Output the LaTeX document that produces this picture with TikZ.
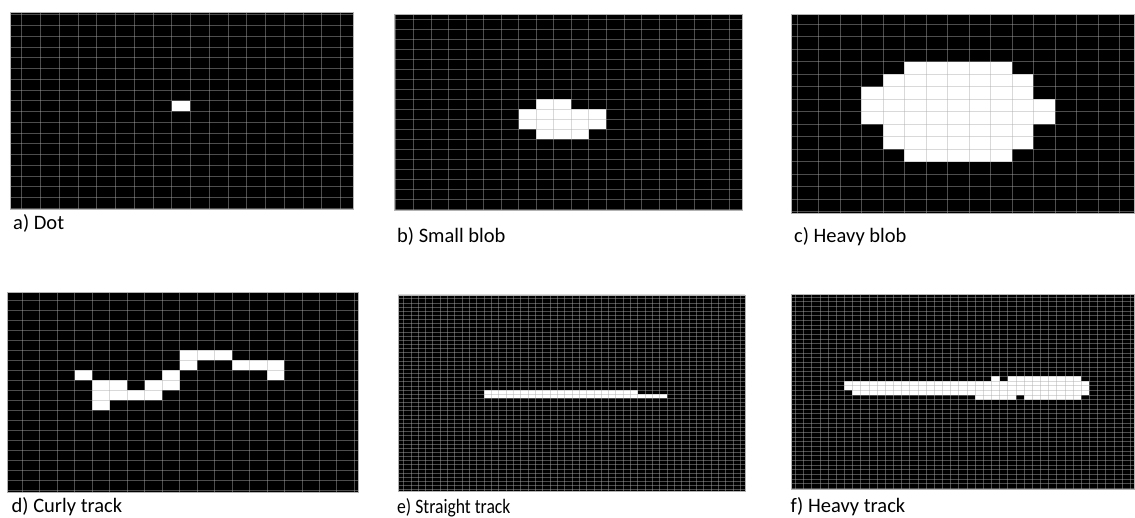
\documentclass[tikz,border=0pt]{standalone}
\usepackage{fontspec}
\setmainfont{Carlito}
\usetikzlibrary{positioning}
\tikzset{
  panelframe/.style={draw=gray!60, line width=0.6pt},
  gridline/.style={draw=white!67!black, draw opacity=0.45, line width=0.55pt},
  cellfill/.style={fill=white},
  caption/.style={font=\fontsize{20.5}{24}\selectfont, anchor=base west, inner sep=0pt}
}
% #1,#2 upper left, #3,#4 lower right, #5,#6 grid origin, #7,#8 cell size, #9 white runs row/from/to
\newcommand{\gridpanel}[9]{%
  \begin{scope}
    \clip (#1,#2) rectangle (#3,#4);
    \fill[black] (#1,#2) rectangle (#3,#4);
    \foreach \r/\a/\b in {#9}
      \fill[cellfill] ({#5+\a*#7},{#6+\r*#8}) rectangle ({#5+(\b+1)*#7},{#6+(\r+1)*#8});
    \pgfmathtruncatemacro\ka{floor((#1-#5)/#7)}
    \pgfmathtruncatemacro\kb{ceil((#3-#5)/#7)}
    \foreach \k in {\ka,...,\kb}
      \draw[gridline] ({#5+\k*#7},#2) -- ({#5+\k*#7},#4);
    \pgfmathtruncatemacro\ka{floor((#2-#6)/#8)}
    \pgfmathtruncatemacro\kb{ceil((#4-#6)/#8)}
    \foreach \k in {\ka,...,\kb}
      \draw[gridline] (#1,{#6+\k*#8}) -- (#3,{#6+\k*#8});
  \end{scope}
  \draw[panelframe] (#1,#2) rectangle (#3,#4);
}

\begin{document}
\begin{tikzpicture}[x=1pt, y=-1pt]
  \useasboundingbox (0,0) rectangle (1135,518);
  % top row
  \gridpanel{10}{12}{353}{209}{21.7}{25.5}{18.75}{10.75}{7/8/8}
  \gridpanel{394}{14}{742.7}{210.7}{413.3}{99}{17.54}{10}{0/7/8, 1/6/10, 2/6/10, 3/7/9}
  \gridpanel{791}{14}{1134}{213}{818.3}{61.7}{21.5}{12.5}{0/4/8, 1/3/9, 2/2/9, 3/2/10, 4/2/10, 5/3/9, 6/3/9, 7/4/8}
  % bottom row
  \gridpanel{7.3}{292.7}{358}{492.3}{22.3}{360}{17.47}{10}{-1/9/11, 0/9/9, 0/12/14, 1/3/3, 1/8/8, 1/14/14, 2/4/5, 2/7/8, 3/4/7, 4/4/4}
  \gridpanel{398.3}{295}{745}{491.7}{484}{390}{7.32}{4.15}{0/0/20, 1/0/24}
  \gridpanel{791}{294}{1134}{489.3}{844.3}{376.3}{8.17}{4.67}{0/18/18, 0/20/28, 1/0/29, 2/0/29, 3/1/29, 4/16/20, 4/22/28}

  \node[caption] (capa) at (13,230) {a) Dot};
  \node[caption] (capb) at (397,243) {b) Small blob};
  \node[caption] (capc) at (794,243) {c) Heavy blob};
  \node[caption] (capd) at (11.5,512) {d) Curly track};
  \node[caption, xscale=0.86, transform shape] (cape) at (397,513) {e) Straight track};
  \node[caption] (capf) at (790.5,512) {f) Heavy track};
\end{tikzpicture}
\end{document}
